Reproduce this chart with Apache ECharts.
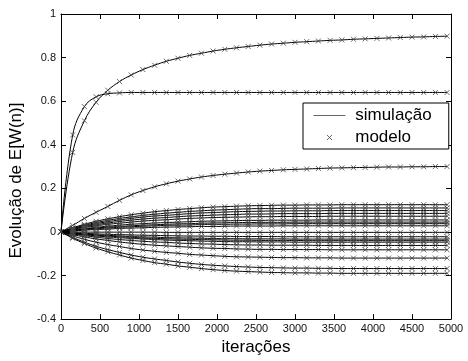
<!DOCTYPE html>
<html>
<head>
<meta charset="utf-8">
<script src="https://cdn.jsdelivr.net/npm/echarts@6/dist/echarts.min.js"></script>
<style>html,body{margin:0;padding:0;background:#fff}#c{width:468px;height:361px}</style>
</head>
<body>
<div id="c"></div>
<script>
// iterations where both simulation and model are sampled
const iters = [0,150,300,450,600,750,900,1050,1200,1350,1500,1650,1800,1950,2100,2250,2400,2550,2700,2850,3000,3150,3300,3450,3600,3750,3900,4050,4200,4350,4500,4650,4800,4950];

const xTickLabels = ['0','500','1000','1500','2000','2500','3000','3500','4000','4500','5000'];
const yTickLabels = ['-0.4','-0.2','0','0.2','0.4','0.6','0.8','1'];
const legendNames = ['simulação', 'modelo'];

const wA = [0,.445,.575,.62,.634,.638,.64,.64,.64,.64,.64,.64,.64,.64,.64,.64,.64,.64,.64,.64,.64,.64,.64,.64,.64,.64,.64,.64,.64,.64,.64,.64,.64,.64];
const wB = [0,.365,.51,.595,.65,.69,.72,.745,.765,.783,.797,.81,.82,.83,.838,.845,.851,.857,.862,.866,.87,.873,.876,.879,.881,.884,.886,.888,.89,.892,.894,.895,.897,.898];
const wC = [0,.03,.062,.09,.117,.145,.17,.19,.207,.221,.233,.243,.252,.259,.265,.27,.275,.279,.282,.285,.287,.289,.291,.293,.294,.295,.296,.297,.298,.298,.299,.299,.3,.3];
const w01 = [0,.019,.035,.049,.06,.07,.079,.086,.093,.098,.103,.107,.111,.114,.116,.118,.12,.121,.122,.123,.123,.124,.124,.124,.125,.125,.125,.125,.125,.125,.125,.125,.125,.125];
const w02 = [0,.017,.031,.043,.053,.062,.069,.076,.081,.086,.09,.094,.097,.1,.102,.104,.106,.107,.107,.108,.109,.109,.109,.109,.11,.11,.11,.11,.11,.11,.11,.11,.11,.11];
const w03 = [0,.015,.027,.038,.047,.055,.062,.068,.073,.076,.08,.084,.087,.089,.091,.093,.094,.095,.096,.096,.097,.097,.097,.098,.098,.098,.098,.098,.098,.098,.098,.098,.098,.098];
const w04 = [0,.013,.024,.033,.041,.048,.054,.059,.063,.066,.07,.073,.075,.077,.079,.08,.082,.082,.083,.084,.084,.084,.084,.085,.085,.085,.085,.085,.085,.085,.085,.085,.085,.085];
const w05 = [0,.011,.02,.028,.035,.04,.045,.05,.053,.056,.059,.062,.064,.066,.067,.068,.069,.07,.07,.071,.071,.071,.071,.072,.072,.072,.072,.072,.072,.072,.072,.072,.072,.072];
const w06 = [0,.008,.015,.021,.026,.031,.035,.038,.041,.043,.045,.047,.049,.05,.051,.052,.053,.053,.054,.054,.054,.054,.055,.055,.055,.055,.055,.055,.055,.055,.055,.055,.055,.055];
const w07 = [0,.007,.013,.018,.022,.025,.028,.031,.033,.035,.037,.038,.04,.041,.042,.043,.043,.044,.044,.044,.045,.045,.045,.045,.045,.045,.045,.045,.045,.045,.045,.045,.045,.045];
const w08 = [0,.006,.011,.015,.018,.021,.024,.026,.028,.03,.031,.032,.034,.035,.035,.036,.036,.037,.037,.037,.038,.038,.038,.038,.038,.038,.038,.038,.038,.038,.038,.038,.038,.038];
const w09 = [0,.004,.008,.011,.013,.016,.018,.019,.021,.022,.023,.024,.025,.025,.026,.027,.027,.027,.027,.028,.028,.028,.028,.028,.028,.028,.028,.028,.028,.028,.028,.028,.028,.028];
const w10 = [0,0,-.001,-.001,-.001,-.001,-.001,-.001,-.001,-.002,-.002,-.002,-.002,-.002,-.002,-.002,-.002,-.002,-.002,-.002,-.002,-.002,-.002,-.002,-.002,-.002,-.002,-.002,-.002,-.002,-.002,-.002,-.002,-.002];
const w11 = [0,-.003,-.006,-.009,-.011,-.012,-.014,-.015,-.016,-.017,-.018,-.019,-.019,-.02,-.02,-.021,-.021,-.021,-.021,-.022,-.022,-.022,-.022,-.022,-.022,-.022,-.022,-.022,-.022,-.022,-.022,-.022,-.022,-.022];
const w12 = [0,-.005,-.009,-.013,-.016,-.018,-.021,-.023,-.024,-.026,-.027,-.028,-.029,-.03,-.031,-.031,-.032,-.032,-.032,-.032,-.033,-.033,-.033,-.033,-.033,-.033,-.033,-.033,-.033,-.033,-.033,-.033,-.033,-.033];
const w13 = [0,-.006,-.011,-.016,-.019,-.022,-.025,-.028,-.03,-.031,-.033,-.034,-.035,-.036,-.037,-.038,-.038,-.039,-.039,-.039,-.039,-.04,-.04,-.04,-.04,-.04,-.04,-.04,-.04,-.04,-.04,-.04,-.04,-.04];
const w14 = [0,-.007,-.013,-.018,-.023,-.026,-.03,-.032,-.035,-.037,-.039,-.04,-.042,-.043,-.044,-.045,-.045,-.046,-.046,-.046,-.047,-.047,-.047,-.047,-.047,-.047,-.047,-.047,-.047,-.047,-.047,-.047,-.047,-.047];
const w15 = [0,-.009,-.017,-.024,-.03,-.035,-.039,-.043,-.046,-.048,-.051,-.053,-.055,-.056,-.058,-.059,-.06,-.06,-.061,-.061,-.061,-.061,-.062,-.062,-.062,-.062,-.062,-.062,-.062,-.062,-.062,-.062,-.062,-.062];
const w16 = [0,-.012,-.023,-.032,-.039,-.046,-.052,-.057,-.061,-.064,-.067,-.07,-.073,-.075,-.076,-.078,-.079,-.08,-.08,-.081,-.081,-.081,-.081,-.082,-.082,-.082,-.082,-.082,-.082,-.082,-.082,-.082,-.082,-.082];
const w17 = [0,-.018,-.034,-.047,-.058,-.067,-.076,-.083,-.089,-.094,-.098,-.103,-.106,-.109,-.112,-.114,-.115,-.116,-.117,-.118,-.118,-.119,-.119,-.119,-.12,-.12,-.12,-.12,-.12,-.12,-.12,-.12,-.12,-.12];
const w18 = [0,-.025,-.047,-.066,-.081,-.094,-.106,-.116,-.124,-.131,-.138,-.144,-.149,-.153,-.156,-.159,-.161,-.163,-.164,-.165,-.166,-.166,-.167,-.167,-.168,-.168,-.168,-.168,-.168,-.168,-.168,-.168,-.168,-.168];
const w19 = [0,-.029,-.053,-.074,-.091,-.106,-.12,-.131,-.141,-.148,-.156,-.162,-.168,-.173,-.177,-.18,-.182,-.184,-.186,-.187,-.188,-.188,-.189,-.189,-.19,-.19,-.19,-.19,-.19,-.19,-.19,-.19,-.19,-.19];

const curves = [wA,wB,wC,w01,w02,w03,w04,w05,w06,w07,w08,w09,w10,w11,w12,w13,w14,w15,w16,w17,w18,w19];

const FONT = 'Liberation Sans, Arial, sans-serif';
const xMark = 'path://M0,0L10,10M10,0L0,10';
const CLEAR = 'rgba(0,0,0,0)';

const series = [];
curves.forEach(function (vals) {
  const pts = iters.map(function (t, i) { return [t, vals[i]]; });
  series.push({
    name: legendNames[0], type: 'line', data: pts, symbol: 'none', showSymbol: false,
    smooth: 0.4, lineStyle: {color: '#000', width: 1}, itemStyle: {color: CLEAR, borderColor: CLEAR}, z: 2,
    emphasis: {disabled: true}, silent: true
  });
  series.push({
    name: legendNames[1], type: 'scatter', data: pts, symbol: xMark, symbolSize: 5,
    itemStyle: {color: CLEAR, borderColor: '#444', borderWidth: 1}, z: 3,
    emphasis: {disabled: true}, silent: true
  });
});

function axisCommon() {
  return {
    axisLine: {show: true, onZero: false, lineStyle: {color: '#000', width: 1}},
    axisTick: {show: true, inside: true, length: 5, lineStyle: {color: '#000'}},
    splitLine: {show: false}
  };
}

const chart = echarts.init(document.getElementById('c'), null, {renderer: 'canvas'});
chart.setOption({
  animation: false,
  backgroundColor: '#fff',
  grid: {left: 58, right: 17, top: 14, bottom: 39, containLabel: false},
  legend: {
    show: true,
    orient: 'vertical', left: 303, top: 103,
    backgroundColor: '#fff', borderColor: '#000', borderWidth: 1,
    padding: [4, 17, 3, 10], itemGap: 5, itemWidth: 32, itemHeight: 5,
    selectedMode: false,
    itemStyle: {borderWidth: 1},
    lineStyle: {width: 1, color: '#666'},
    formatter: function (n) { return ' ' + n; },
    textStyle: {fontSize: 17, fontFamily: FONT, color: '#000'},
    data: legendNames
  },
  xAxis: [
    Object.assign(axisCommon(), {
      type: 'value', min: 0, max: 5000, interval: 500, position: 'bottom',
      name: 'iterações', nameLocation: 'middle', nameGap: 19,
      nameTextStyle: {fontSize: 17, fontFamily: FONT, color: '#000'},
      axisLabel: {fontSize: 11, fontFamily: FONT, color: '#111', margin: 4,
        formatter: function (v) { return xTickLabels[Math.round(v / 500)]; }}
    }),
    Object.assign(axisCommon(), {
      type: 'value', min: 0, max: 5000, interval: 500, position: 'top',
      axisLabel: {show: false}
    })
  ],
  yAxis: [
    Object.assign(axisCommon(), {
      type: 'value', min: -0.4, max: 1, interval: 0.2, position: 'left',
      name: 'Evolução de E[W(n)]', nameLocation: 'middle', nameGap: 36,
      nameTextStyle: {fontSize: 17, fontFamily: FONT, color: '#000', padding: [0, 28, 0, 0]},
      axisLabel: {fontSize: 11, fontFamily: FONT, color: '#111', margin: 5,
        formatter: function (v) { return yTickLabels[Math.round((v + 0.4) / 0.2)]; }}
    }),
    Object.assign(axisCommon(), {
      type: 'value', min: -0.4, max: 1, interval: 0.2, position: 'right',
      axisLabel: {show: false}
    })
  ],
  series: series
});
</script>
</body>
</html>
